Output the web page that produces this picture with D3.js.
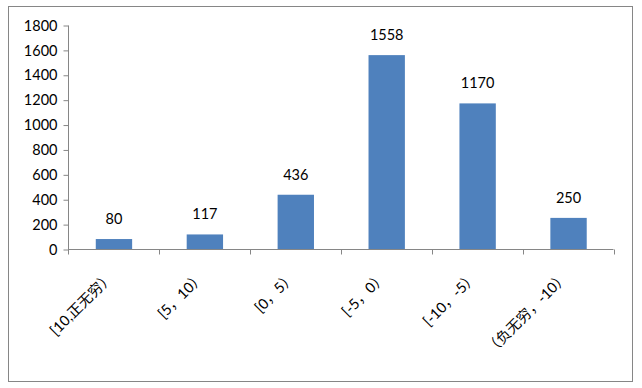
<!DOCTYPE html>
<html>
<head>
<meta charset="utf-8">
<script src="https://cdn.jsdelivr.net/npm/d3@7"></script>
<style>
  html, body { margin: 0; padding: 0; background: #fff; }
  svg { display: block; }
  text { font-family: "Lato", "Noto Sans CJK SC", sans-serif; fill: #000; }
</style>
</head>
<body>
<svg id="chart" width="642" height="388"></svg>
<script>
const categories = ["[10,正无穷）", "[5，10）", "[0，5）", "[-5，0）", "[-10，-5）", "（负无穷，-10）"];
const values = [80, 117, 436, 1558, 1170, 250];
const yTicks = [0, 200, 400, 600, 800, 1000, 1200, 1400, 1600, 1800];

(function () {
const svg = d3.select("#chart");
const mLeft = 68, mRight = 613.5, mTop = 25, mBottom = 249;

svg.append("rect")
  .attr("x", 8.5).attr("y", 6.5)
  .attr("width", 624).attr("height", 375)
  .attr("fill", "#fff").attr("stroke", "#868686").attr("stroke-width", 1);

const x = d3.scaleBand().domain(categories).range([mLeft, mRight]).paddingInner(0).paddingOuter(0);
const y = d3.scaleLinear().domain([0, 1800]).range([mBottom, mTop]);

const barW = x.bandwidth() * 0.4;

// Y axis
const yAxis = d3.axisLeft(y).tickValues(yTicks).tickSize(5).tickPadding(6).tickFormat(d3.format("d"));
const gy = svg.append("g").attr("transform", `translate(${mLeft + 0.5},0.5)`).call(yAxis);
gy.selectAll("path, line").attr("stroke", "#868686");
gy.select(".domain").attr("d", `M0,${mTop}V${mBottom}`);
gy.selectAll("text").style("font-size", "14.5px").style("font-family", "Lato, sans-serif").attr("fill", "#000");

// Bars
svg.append("g").selectAll("rect").data(values).join("rect")
  .attr("x", (d, i) => x(categories[i]) + (x.bandwidth() - barW) / 2 + 0.5)
  .attr("y", d => y(d))
  .attr("width", barW)
  .attr("height", d => y(0) - y(d))
  .attr("fill", "#4F81BD");

// X axis
const gx = svg.append("g").attr("transform", `translate(0,${mBottom + 0.5})`);
gx.append("line").attr("x1", mLeft).attr("x2", mRight).attr("y1", 0).attr("y2", 0).attr("stroke", "#868686");
const tickXs = categories.map(c => x(c)).concat([mRight]);
gx.selectAll("line.tick").data(tickXs).join("line").attr("class", "tick")
  .attr("x1", d => Math.round(d) + 0.5).attr("x2", d => Math.round(d) + 0.5)
  .attr("y1", 0).attr("y2", 5).attr("stroke", "#868686");

// X labels rotated
svg.append("g").selectAll("text").data(categories).join("text")
  .attr("transform", d => `translate(${x(d) + x.bandwidth() / 2 + 1},${278}) rotate(-45)`)
  .attr("text-anchor", "end")
  .style("font-size", "14.5px")
  .text(d => d);

// Value labels
svg.append("g").selectAll("text").data(values).join("text")
  .attr("x", (d, i) => x(categories[i]) + x.bandwidth() / 2 + 0.5)
  .attr("y", d => y(d) - 15)
  .attr("text-anchor", "middle")
  .style("font-size", "14.5px")
  .text(d => d);
})();
</script>
</body>
</html>
